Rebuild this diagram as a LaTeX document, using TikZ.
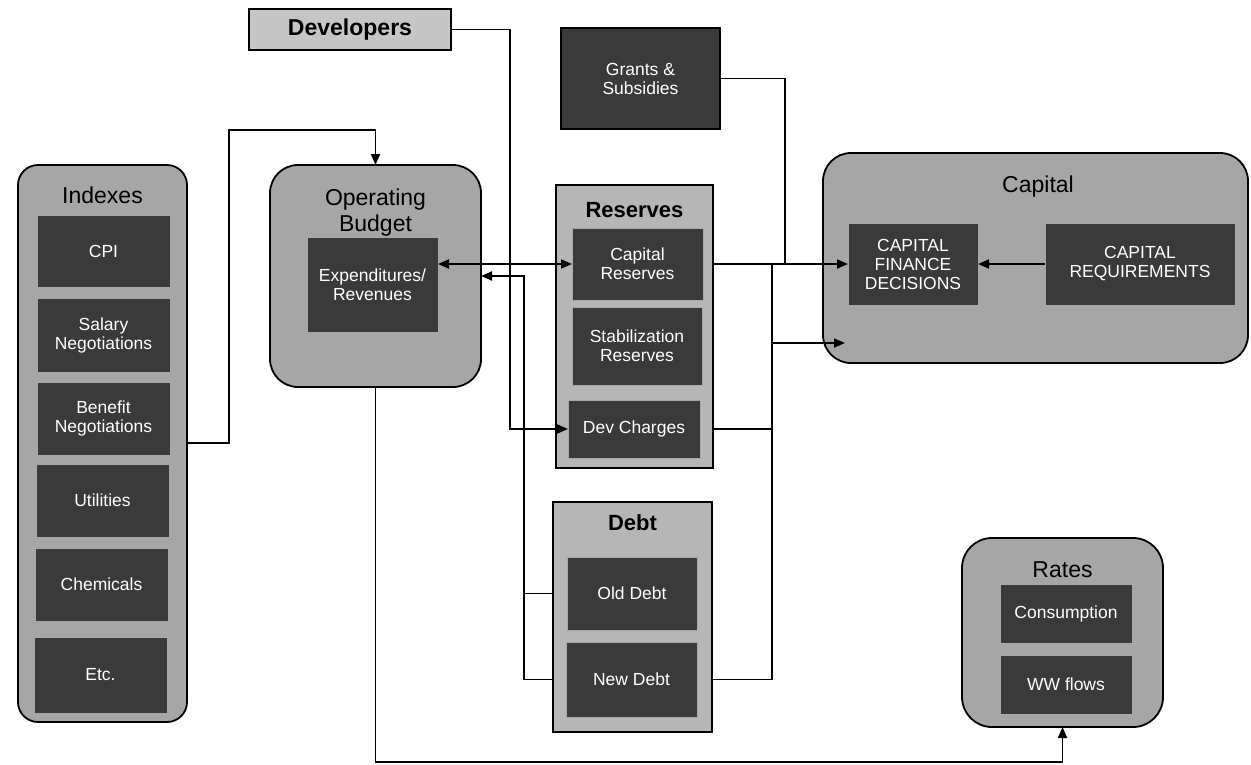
\documentclass[tikz,border=0pt]{standalone}
\usepackage{fontspec}
\setmainfont{Liberation Sans}
\usetikzlibrary{arrows.meta}
\definecolor{roundfill}{HTML}{A6A6A6}
\definecolor{squarefill}{HTML}{B6B6B6}
\definecolor{devfill}{HTML}{C6C6C6}
\definecolor{darkfill}{HTML}{3A3A3A}
\definecolor{darkedge}{HTML}{A8A8A8}
\begin{document}
\begin{tikzpicture}[x=1pt,y=-1pt,
  outerR/.style={draw=black, line width=1.8pt, fill=roundfill, rounded corners=24pt, inner sep=0pt, outer sep=0pt},
  outerS/.style={draw=black, line width=1.8pt, fill=squarefill, inner sep=0pt, outer sep=0pt},
  innerbox/.style={draw=darkedge, line width=1pt, fill=darkfill, text=white, inner sep=0pt, outer sep=0pt, align=center, font=\fontsize{17.5}{19}\selectfont},
  titletext/.style={font=\fontsize{23}{26}\selectfont, align=center, inner sep=0pt},
  boldtitle/.style={font=\bfseries\fontsize{22}{26}\selectfont, align=center, inner sep=0pt},
  conn/.style={line width=1.8pt},
  arr/.style={conn, -{Triangle[length=11pt,width=9pt]}},
  dblarr/.style={conn, {Triangle[length=11pt,width=9pt]}-{Triangle[length=11pt,width=9pt]}},
]
\useasboundingbox (0,0) rectangle (1251,764);

% ---- Developers and Grants ----
\node[outerS, fill=devfill, line width=1.2pt, minimum width=202pt, minimum height=41pt, font=\bfseries\fontsize{23}{26}\selectfont] (dev) at (350,29.5) {Developers};
\node[innerbox, draw=black, line width=1.2pt, minimum width=159pt, minimum height=101pt] (grants) at (640.5,78.5) {Grants \&\\Subsidies};

% ---- Indexes ----
\node[outerR, rounded corners=20pt, minimum width=169pt, minimum height=557pt] (indexes) at (102.5,443.5) {};
\node[titletext] (indt) at (102.5,195) {Indexes};
\node[innerbox, minimum width=133pt, minimum height=72pt] (cpi) at (103.5,251) {CPI};
\node[innerbox, minimum width=133pt, minimum height=74pt] (salary) at (103.5,335) {Salary\\Negotiations};
\node[innerbox, minimum width=133pt, minimum height=73pt] (benefit) at (103.5,418.5) {Benefit\\Negotiations};
\node[innerbox, minimum width=133pt, minimum height=73pt] (util) at (102.5,500.5) {Utilities};
\node[innerbox, minimum width=133pt, minimum height=73pt] (chem) at (101.5,584.5) {Chemicals};
\node[innerbox, minimum width=133pt, minimum height=76pt] (etc) at (100.5,675) {Etc.};

% ---- Operating Budget ----
\node[outerR, rounded corners=28pt, minimum width=211pt, minimum height=222pt] (opb) at (375.5,276) {};
\node[titletext] (opbt) at (375.5,213) {Operating\\Budget};
\node[innerbox, minimum width=131pt, minimum height=95pt] (expend) at (372.5,284.5) {Expenditures/\\Revenues};

% ---- Reserves ----
\node[outerS, minimum width=157pt, minimum height=283pt] (reserves) at (634.5,326.5) {};
\node[boldtitle] (rest) at (634.5,210) {Reserves};
\node[innerbox, minimum width=131pt, minimum height=72pt] (capres) at (637.5,264) {Capital\\Reserves};
\node[innerbox, minimum width=130pt, minimum height=78pt] (stabres) at (637,346) {Stabilization\\Reserves};
\node[innerbox, minimum width=132pt, minimum height=58pt] (devch) at (634,429) {Dev Charges};

% ---- Debt ----
\node[outerS, minimum width=159pt, minimum height=230pt] (debt) at (632.5,617) {};
\node[boldtitle] (debtt) at (632.5,523) {Debt};
\node[innerbox, minimum width=130pt, minimum height=73pt] (olddebt) at (632,593.5) {Old Debt};
\node[innerbox, minimum width=131pt, minimum height=75pt] (newdebt) at (631.5,679.5) {New Debt};

% ---- Capital ----
\node[outerR, rounded corners=28pt, minimum width=425pt, minimum height=210pt] (capital) at (1035.5,258) {};
\node[titletext] (capt) at (1038,187) {Capital};
\node[innerbox, minimum width=130pt, minimum height=82pt] (cfd) at (913,264) {CAPITAL\\FINANCE\\DECISIONS};
\node[innerbox, minimum width=190pt, minimum height=82pt] (capreq) at (1140,264) {CAPITAL\\REQUIREMENTS};

% ---- Rates ----
\node[outerR, rounded corners=30pt, minimum width=201pt, minimum height=189pt] (rates) at (1062.5,632.5) {};
\node[titletext] (ratest) at (1062.5,570) {Rates};
\node[innerbox, minimum width=132pt, minimum height=59pt] (cons) at (1066,613.5) {Consumption};
\node[innerbox, minimum width=132pt, minimum height=59pt] (ww) at (1066,684.5) {WW flows};

% ---- helper coordinates ----
\coordinate (k1) at (229,130);
\coordinate (k2) at (510,200);
\coordinate (k3) at (524,276);
\coordinate (k4) at (785,264);
\coordinate (k5) at (772,264);
\coordinate (k6) at (845,343);
\coordinate (k7) at (700,762);

% ---- connectors ----
\draw[arr] (indexes.east |- 0,443) -| (k1) -| (opb.north);
\draw[arr] (dev.east) -| (k2) |- (devch.west);
\draw[dblarr] (capres.west -| expend.east) -- (capres.west);
\draw[arr] (newdebt.west -| debt.west) -| (k3) -- (k3 -| opb.east);
\draw[conn] (olddebt.west -| debt.west) -- (olddebt.west -| k3);
\draw[conn] (grants.east) -| (k4);
\draw[arr] (capres.east -| reserves.east) -- (cfd.west);
\draw[conn] (devch.east -| reserves.east) -- (devch.east -| k5);
\draw[conn] (newdebt.east -| debt.east) -| (k5);
\draw[arr] (k6 -| k5) -- (k6);
\draw[arr] (capreq.west) -- (cfd.east);
\draw[arr] (opb.south) |- (k7) -| (rates.south);
\end{tikzpicture}
\end{document}
